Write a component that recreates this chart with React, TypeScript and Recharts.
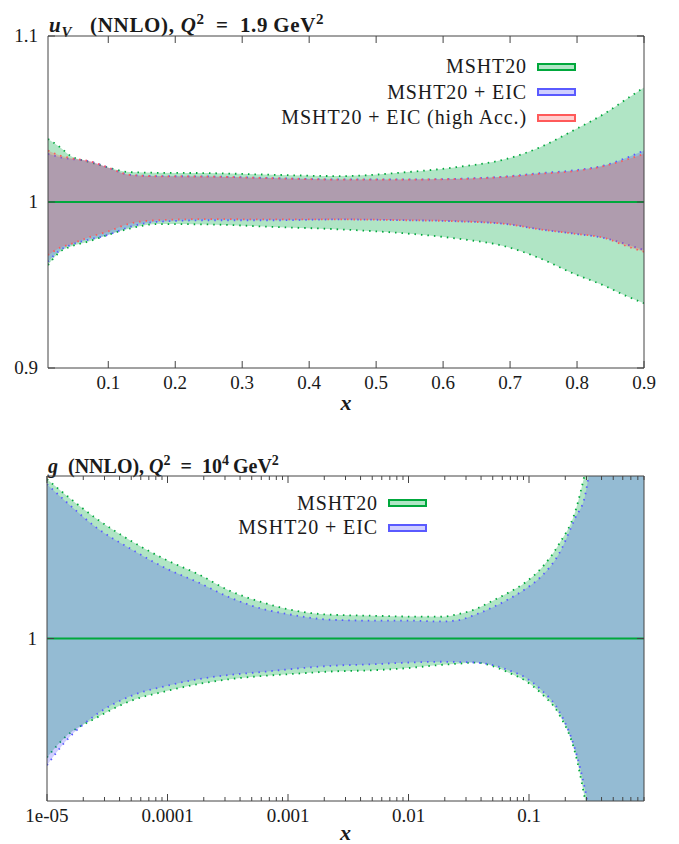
import React from 'react';
import { ComposedChart, Area, XAxis, YAxis, ReferenceLine, Legend } from 'recharts';

// ---- u_V panel, Q^2 = 1.9 GeV^2 (ratio to MSHT20 central) ----
const uvX = [0.01, 0.028, 0.043, 0.073, 0.098, 0.132, 0.172, 0.247, 0.346, 0.446, 0.546, 0.62, 0.695, 0.745, 0.794, 0.844, 0.87, 0.9];
const uvGreenHi = [1.038, 1.033, 1.028, 1.024, 1.021, 1.018, 1.0176, 1.0174, 1.0164, 1.0156, 1.018, 1.021, 1.026, 1.033, 1.043, 1.054, 1.061, 1.069];
const uvGreenLo = [0.962, 0.97, 0.973, 0.9765, 0.98, 0.984, 0.9867, 0.9865, 0.985, 0.9835, 0.981, 0.978, 0.973, 0.966, 0.957, 0.949, 0.944, 0.939];
const uvBlueHi = [1.029, 1.027, 1.026, 1.0245, 1.021, 1.0164, 1.0156, 1.0154, 1.0144, 1.0136, 1.0136, 1.014, 1.0154, 1.0174, 1.019, 1.0224, 1.026, 1.031];
const uvBlueLo = [0.964, 0.971, 0.974, 0.9775, 0.98, 0.985, 0.988, 0.989, 0.989, 0.9895, 0.989, 0.9884, 0.9867, 0.9835, 0.981, 0.978, 0.975, 0.971];
const uvRedHi = [1.031, 1.028, 1.0265, 1.0245, 1.021, 1.0164, 1.0155, 1.0153, 1.0143, 1.0135, 1.0135, 1.0138, 1.0152, 1.017, 1.0185, 1.022, 1.025, 1.029];
const uvRedLo = [0.968, 0.9725, 0.9745, 0.979, 0.982, 0.987, 0.989, 0.9897, 0.9895, 0.9895, 0.989, 0.9884, 0.9867, 0.9835, 0.981, 0.978, 0.974, 0.97];
const uvXTicks = [0.1, 0.2, 0.3, 0.4, 0.5, 0.6, 0.7, 0.8, 0.9];
const uvYTicks = [0.9, 1, 1.1];

// ---- gluon panel, Q^2 = 10^4 GeV^2 ----
const gX = [1e-5, 1.4e-5, 2.6e-5, 5e-5, 1e-4, 1.8e-4, 3.3e-4, 6.3e-4, 1e-3, 2.3e-3, 5.2e-3, 0.0099, 0.0188, 0.0259, 0.0357, 0.0492, 0.0678, 0.0931, 0.128, 0.177, 0.243, 0.29, 0.35, 0.5, 0.9];
const gGreenHi = [1.098, 1.089, 1.0735, 1.06, 1.048, 1.0396, 1.0293, 1.022, 1.018, 1.0146, 1.014, 1.0135, 1.0134, 1.015, 1.018, 1.023, 1.0283, 1.0345, 1.0437, 1.058, 1.0786, 1.101, 1.13, 1.2, 1.35];
const gGreenLo = [0.9268, 0.939, 0.9514, 0.9617, 0.9678, 0.972, 0.975, 0.977, 0.978, 0.9797, 0.9805, 0.9818, 0.9838, 0.9845, 0.9852, 0.9832, 0.979, 0.974, 0.9658, 0.9535, 0.9289, 0.902, 0.87, 0.8, 0.65];
const gBlueHi = [1.095, 1.085, 1.068, 1.055, 1.0427, 1.0345, 1.0252, 1.018, 1.015, 1.0115, 1.011, 1.011, 1.0105, 1.0113, 1.0146, 1.019, 1.0242, 1.0304, 1.0386, 1.052, 1.0745, 1.087, 1.125, 1.19, 1.33];
const gBlueLo = [0.922, 0.936, 0.9535, 0.9647, 0.971, 0.975, 0.9776, 0.9795, 0.981, 0.9832, 0.9842, 0.9852, 0.9857, 0.9855, 0.9852, 0.9838, 0.9805, 0.976, 0.968, 0.9555, 0.931, 0.908, 0.875, 0.81, 0.66];
const gMajorTicks = [1e-5, 1e-4, 1e-3, 1e-2, 0.1];
const gMinorTicks = [
  2e-5, 3e-5, 4e-5, 5e-5, 6e-5, 7e-5, 8e-5, 9e-5,
  2e-4, 3e-4, 4e-4, 5e-4, 6e-4, 7e-4, 8e-4, 9e-4,
  2e-3, 3e-3, 4e-3, 5e-3, 6e-3, 7e-3, 8e-3, 9e-3,
  0.02, 0.03, 0.04, 0.05, 0.06, 0.07, 0.08, 0.09,
  0.2, 0.3, 0.4, 0.5, 0.6, 0.7, 0.8, 0.9,
];
const gXLabels = ['1e-05', '0.0001', '0.001', '0.01', '0.1'];
const gYTicks = [1];

const uvLegend = ['MSHT20', 'MSHT20 + EIC', 'MSHT20 + EIC (high Acc.)'];
const gLegend = ['MSHT20', 'MSHT20 + EIC'];

const SERIF = '"Liberation Serif", "Times New Roman", serif';
const AXIS = '#444';
const TEXT = '#1a1a1a';

const GREEN = { line: '#00a83c', fill: '#00aa44', opacity: 0.31 };
const BLUE = { line: '#5a5aff', fill: '#4040ff', opacity: 0.25 };
const RED = { line: '#ff5a5a', fill: '#ff4040', opacity: 0.25 };

const uvData = uvX.map((x, i) => ({
  x,
  green: [uvGreenLo[i], uvGreenHi[i]],
  blue: [uvBlueLo[i], uvBlueHi[i]],
  red: [uvRedLo[i], uvRedHi[i]],
}));

const gData = gX.map((x, i) => ({
  x,
  green: [gGreenLo[i], gGreenHi[i]],
  blue: [gBlueLo[i], gBlueHi[i]],
}));

const near = (a: number, b: number) => Math.abs(a - b) <= Math.abs(b) * 1e-6;

// ticks point inwards, like gnuplot; labels only on bottom/left
function xTick(side: 'bottom' | 'top', majors: number[], fmt: (v: number) => string) {
  return (props: any) => {
    const { x, y, payload } = props;
    const v = Number(payload.value);
    const major = majors.some((m) => near(v, m));
    const len = major ? 7 : 4;
    const dir = side === 'bottom' ? -1 : 1;
    return (
      <g>
        <line x1={x} x2={x} y1={y} y2={y + dir * len} stroke={AXIS} />
        {side === 'bottom' && major && (
          <text x={x} y={y + 21} textAnchor="middle" fontFamily={SERIF} fontSize={19} fill={TEXT}>
            {fmt(v)}
          </text>
        )}
      </g>
    );
  };
}

function yTick(side: 'left' | 'right', fmt: (v: number) => string) {
  return (props: any) => {
    const { x, y, payload } = props;
    const v = Number(payload.value);
    const dir = side === 'left' ? 1 : -1;
    return (
      <g>
        <line x1={x} x2={x + dir * 7} y1={y} y2={y} stroke={AXIS} />
        {side === 'left' && (
          <text x={x - 10} y={y + 6} textAnchor="end" fontFamily={SERIF} fontSize={19} fill={TEXT}>
            {fmt(v)}
          </text>
        )}
      </g>
    );
  };
}

const fmtLin = (v: number) => String(Math.round(v * 10) / 10);
const fmtLog = (v: number) => gXLabels[gMajorTicks.findIndex((m) => near(v, m))] ?? '';

function legendContent(labels: string[], colors: typeof GREEN[], rowH: number) {
  return () => (
    <div style={{ fontFamily: SERIF, fontSize: 20, letterSpacing: 0.9, color: TEXT }}>
      {labels.map((lab, i) => (
        <div
          key={lab}
          style={{ display: 'flex', justifyContent: 'flex-end', alignItems: 'center', height: rowH }}
        >
          <span style={{ whiteSpace: 'nowrap' }}>{lab}</span>
          <span
            style={{
              display: 'inline-block',
              marginLeft: 10,
              width: 39,
              height: 8,
              boxSizing: 'border-box',
              border: `2px solid ${colors[i].line}`,
              background: colors[i].fill,
              position: 'relative',
            }}
          >
            <span
              style={{
                position: 'absolute',
                inset: 0,
                background: '#fff',
                opacity: 1 - colors[i].opacity,
              }}
            />
          </span>
        </div>
      ))}
    </div>
  );
}

const xLabel = (offset: number) => ({
  value: 'x',
  position: 'insideBottom' as const,
  offset,
  fill: TEXT,
  fontFamily: SERIF,
  fontSize: 22,
  fontStyle: 'italic',
  fontWeight: 'bold',
});

const titleStyle: React.CSSProperties = {
  position: 'absolute',
  fontFamily: SERIF,
  lineHeight: '20px',
  fontWeight: 'bold',
  color: TEXT,
  whiteSpace: 'nowrap',
};

function band(key: string, c: typeof GREEN) {
  return (
    <Area
      dataKey={key}
      type="monotone"
      fill={c.fill}
      fillOpacity={c.opacity}
      stroke={c.line}
      strokeWidth={1.8}
      strokeDasharray="1.5 5"
      dot={false}
      activeDot={false}
      isAnimationActive={false}
    />
  );
}

// frame edges with inward ticks (top / right), no labels
function mirrorX(domain: [number, number], ticks: number[], majors: number[], fmt: (v: number) => string, log?: boolean) {
  return (
    <XAxis
      xAxisId="top"
      dataKey="x"
      orientation="top"
      mirror
      type="number"
      scale={log ? 'log' : 'auto'}
      domain={domain}
      allowDataOverflow
      ticks={ticks}
      interval={0}
      tickSize={0}
      tickMargin={0}
      tickLine={false}
      tick={xTick('top', majors, fmt)}
      axisLine={{ stroke: AXIS }}
    />
  );
}

export default function App() {
  return (
    <div style={{ position: 'absolute', left: 0, top: 0, width: 679, height: 844, background: '#fff' }}>
      <div style={{ ...titleStyle, left: 49, top: 9, fontSize: 21, letterSpacing: 0.7 }}>
        <i>u</i>
        <sub style={{ fontSize: 15 }}>
          <i>V</i>
        </sub>
        {'\u00a0\u00a0\u00a0(NNLO), '}
        <i>Q</i>
        <sup style={{ fontSize: 15 }}>2</sup>
        {'\u2002=\u2002'}1.9&thinsp;GeV<sup style={{ fontSize: 15 }}>2</sup>
      </div>

      <div style={{ position: 'absolute', left: 0, top: 0 }}>
        <ComposedChart width={679} height={420} data={uvData} margin={{ top: 36, right: 35, left: 0, bottom: 0 }}>
          <XAxis
            dataKey="x"
            type="number"
            domain={[0.01, 0.9]}
            allowDataOverflow
            ticks={uvXTicks}
            interval={0}
            tickSize={0}
            tickMargin={0}
            tickLine={false}
            tick={xTick('bottom', uvXTicks, fmtLin)}
            axisLine={{ stroke: AXIS }}
            height={52}
            label={xLabel(10)}
          />
          {mirrorX([0.01, 0.9], uvXTicks, uvXTicks, fmtLin)}
          <YAxis
            type="number"
            domain={[0.9, 1.1]}
            allowDataOverflow
            ticks={uvYTicks}
            interval={0}
            tickSize={0}
            tickMargin={0}
            tickLine={false}
            tick={yTick('left', (v) => String(v))}
            axisLine={{ stroke: AXIS }}
            width={48}
          />
          <YAxis
            yAxisId="right"
            orientation="right"
            mirror
            type="number"
            domain={[0.9, 1.1]}
            allowDataOverflow
            ticks={uvYTicks}
            interval={0}
            tickSize={0}
            tickMargin={0}
            tickLine={false}
            tick={yTick('right', (v) => String(v))}
            axisLine={{ stroke: AXIS }}
          />
          {band('green', GREEN)}
          {band('blue', BLUE)}
          {band('red', RED)}
          <ReferenceLine y={1} stroke={GREEN.line} strokeWidth={2} />
          <Legend
            layout="vertical"
            verticalAlign="middle"
            align="center"
            content={legendContent(uvLegend, [GREEN, BLUE, RED], 25.5)}
            wrapperStyle={{ left: 196, top: 54, width: 380 }}
          />
        </ComposedChart>
      </div>

      <div style={{ ...titleStyle, left: 48, top: 451, fontSize: 20 }}>
        <i>g</i>
        {'\u00a0\u00a0(NNLO), '}
        <i>Q</i>
        <sup style={{ fontSize: 14 }}>2</sup>
        {'\u2002=\u2002'}10<sup style={{ fontSize: 14 }}>4</sup>&thinsp;GeV
        <sup style={{ fontSize: 14 }}>2</sup>
      </div>

      <div style={{ position: 'absolute', left: 0, top: 440 }}>
        <ComposedChart width={679} height={404} data={gData} margin={{ top: 36, right: 35, left: 0, bottom: 0 }}>
          <XAxis
            dataKey="x"
            type="number"
            scale="log"
            domain={[1e-5, 0.9]}
            allowDataOverflow
            ticks={[...gMajorTicks, ...gMinorTicks]}
            interval={0}
            tickSize={0}
            tickMargin={0}
            tickLine={false}
            tick={xTick('bottom', gMajorTicks, fmtLog)}
            axisLine={{ stroke: AXIS }}
            height={43}
            label={xLabel(4)}
          />
          {mirrorX([1e-5, 0.9], [...gMajorTicks, ...gMinorTicks], gMajorTicks, fmtLog, true)}
          <YAxis
            type="number"
            domain={[0.9, 1.1]}
            allowDataOverflow
            ticks={gYTicks}
            interval={0}
            tickSize={0}
            tickMargin={0}
            tickLine={false}
            tick={yTick('left', (v) => String(v))}
            axisLine={{ stroke: AXIS }}
            width={47}
          />
          <YAxis
            yAxisId="right"
            orientation="right"
            mirror
            type="number"
            domain={[0.9, 1.1]}
            allowDataOverflow
            ticks={gYTicks}
            interval={0}
            tickSize={0}
            tickMargin={0}
            tickLine={false}
            tick={yTick('right', (v) => String(v))}
            axisLine={{ stroke: AXIS }}
          />
          {band('green', GREEN)}
          {band('blue', BLUE)}
          <ReferenceLine y={1} stroke={GREEN.line} strokeWidth={2} />
          <Legend
            layout="vertical"
            verticalAlign="middle"
            align="center"
            content={legendContent(gLegend, [GREEN, BLUE], 24.5)}
            wrapperStyle={{ left: 47, top: 51, width: 380 }}
          />
        </ComposedChart>
      </div>
    </div>
  );
}
